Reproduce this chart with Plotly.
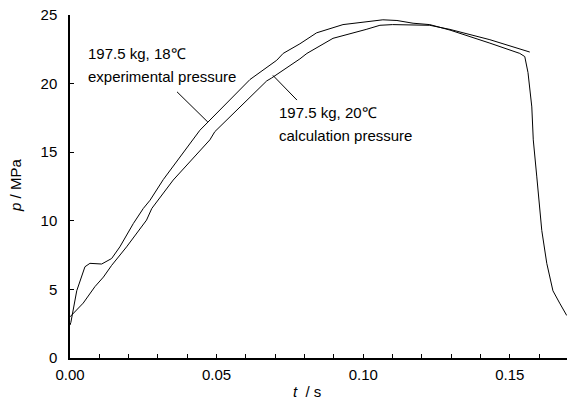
import plotly.graph_objects as go

# Experimental pressure (197.5 kg, 18 C)
t_exp = [0.0, 0.0003, 0.0023, 0.0051, 0.0068, 0.0108, 0.0142, 0.017, 0.0216, 0.025,
         0.0273, 0.0318, 0.0443, 0.0466, 0.058, 0.0614, 0.0705, 0.0727, 0.0784, 0.0841,
         0.0931, 0.0999, 0.1067, 0.1115, 0.117, 0.1227, 0.1296, 0.1432, 0.1534, 0.1551,
         0.1562, 0.1575, 0.158, 0.1592, 0.16, 0.1609, 0.1626, 0.1647, 0.167, 0.1694]
p_exp = [2.4, 2.6, 4.9, 6.65, 6.9, 6.85, 7.25, 8.1, 9.8, 10.9,
         11.5, 13.0, 16.6, 17.1, 19.5, 20.3, 21.7, 22.2, 22.9, 23.7,
         24.3, 24.5, 24.65, 24.6, 24.4, 24.3, 23.9, 22.95, 22.2, 21.97,
         20.8, 18.3, 15.9, 13.2, 11.3, 9.3, 6.9, 4.9, 4.0, 3.1]

# Calculation pressure (197.5 kg, 20 C)
t_calc = [0.0, 0.0045, 0.0085, 0.0114, 0.0142, 0.0193, 0.0261, 0.0279, 0.0352, 0.0477,
          0.0494, 0.0671, 0.0687, 0.075, 0.0784, 0.0808, 0.0897, 0.101, 0.1057, 0.110,
          0.116, 0.1227, 0.1296, 0.1432, 0.1568]
p_calc = [3.0, 4.0, 5.2, 5.9, 6.75, 8.1, 10.05, 10.9, 12.97, 15.9,
          16.5, 20.2, 20.4, 21.3, 21.8, 22.2, 23.3, 23.95, 24.25, 24.3,
          24.3, 24.25, 23.95, 23.2, 22.3]

x_ticks = [i / 100 for i in range(0, 17)]
x_ticktext = ["%.2f" % v if i % 5 == 0 else "" for i, v in enumerate(x_ticks)]
y_ticks = [0, 5, 10, 15, 20, 25]

FONT = "Liberation Sans, Arial, sans-serif"

fig = go.Figure()
fig.add_trace(go.Scatter(x=t_exp, y=p_exp, mode="lines",
                         line=dict(color="black", width=1), showlegend=False))
fig.add_trace(go.Scatter(x=t_calc, y=p_calc, mode="lines",
                         line=dict(color="black", width=1), showlegend=False))

# leader lines
fig.add_shape(type="line", x0=0.0365, y0=19.4, x1=0.047, y1=17.2,
              line=dict(color="black", width=1))
fig.add_shape(type="line", x0=0.0692, y0=20.6, x1=0.0774, y1=18.8,
              line=dict(color="black", width=1))

labels = [
    (0.0054, 22.2, "197.5 kg, 18℃"),
    (0.0054, 20.5, "experimental pressure"),
    (0.0705, 17.9, "197.5 kg, 20℃"),
    (0.0705, 16.2, "calculation pressure"),
]
for x, y, txt in labels:
    fig.add_annotation(x=x, y=y, text=txt, showarrow=False, xanchor="left",
                       yanchor="middle", font=dict(family=FONT, size=15, color="black"))

fig.add_annotation(xref="paper", yref="paper", x=0.477, y=-0.099, text="<i>t</i>  / s",
                   showarrow=False, xanchor="center", yanchor="middle",
                   font=dict(family=FONT, size=15, color="black"))
fig.add_annotation(xref="paper", yref="paper", x=-0.111, y=0.504, text="<i>p</i> / MPa",
                   showarrow=False, textangle=-90, xanchor="center", yanchor="middle",
                   font=dict(family=FONT, size=15, color="black"))

fig.update_layout(
    width=567, height=409,
    margin=dict(l=70, r=0, t=15, b=51, autoexpand=False),
    paper_bgcolor="white", plot_bgcolor="white",
    font=dict(family=FONT, size=15, color="black"),
    xaxis=dict(range=[0, 0.1695], tickmode="array", tickvals=x_ticks, ticktext=x_ticktext,
               ticks="inside", ticklen=4, tickcolor="black", showline=True,
               linecolor="black", linewidth=1.5, showgrid=False, zeroline=False,
               automargin=False, ticklabelstandoff=2),
    yaxis=dict(range=[0, 25], tickmode="array", tickvals=y_ticks,
               ticks="inside", ticklen=4, tickcolor="black", showline=True,
               linecolor="black", linewidth=1.5, showgrid=False, zeroline=False,
               automargin=False, ticklabelstandoff=8),
)

fig.write_html("out.html", config={"displayModeBar": False},
               post_script="document.body.style.margin='0';document.body.style.overflow='hidden';")
